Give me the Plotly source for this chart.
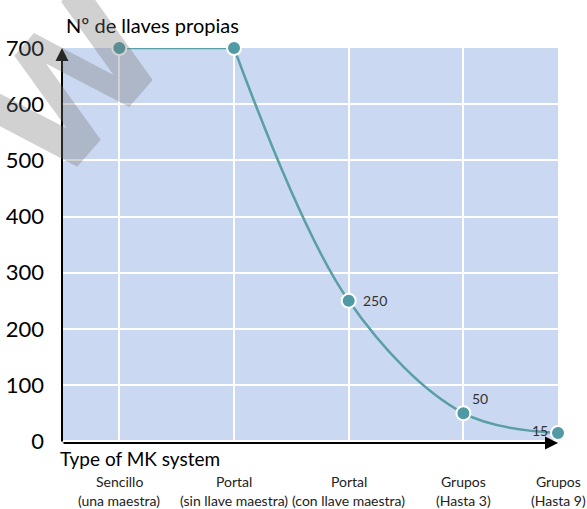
import plotly.graph_objects as go

# Master-key system types and number of own keys
cat_line1 = ["Sencillo", "Portal", "Portal", "Grupos", "Grupos"]
cat_line2 = ["(una maestra)", "(sin llave maestra)", "(con llave maestra)", "(Hasta 3)", "(Hasta 9)"]
cat_pos = [1, 3, 5, 7, 8.65]
own_keys = [700, 700, 250, 50, 15]
value_labels = ["", "", "250", "50", "15"]
y_ticks = [0, 100, 200, 300, 400, 500, 600, 700]

FONT = "Lato"
TEAL = "#5a9ea7"
MARKER = "#4f9aa4"
BG = "#cad9f1"

W, H = 587, 509
ML, MR, MT, MB = 62, 29, 48, 66
PW, PH = W - ML - MR, H - MT - MB


def px(x):
    return (x - ML) / PW


def py(y):
    return 1 - (y - MT) / PH


fig = go.Figure()

# flat part drawn straight, the falling part as a smooth curve
fig.add_trace(go.Scatter(
    x=cat_pos[:2], y=own_keys[:2], mode="lines",
    line=dict(color=TEAL, width=2.5), hoverinfo="skip", showlegend=False,
))
fig.add_trace(go.Scatter(
    x=cat_pos[1:], y=own_keys[1:], mode="lines",
    line=dict(color=TEAL, width=2.5, shape="spline", smoothing=1.0),
    hoverinfo="skip", showlegend=False,
))
fig.add_trace(go.Scatter(
    x=cat_pos, y=own_keys, mode="markers",
    marker=dict(size=14, color=MARKER, line=dict(color="white", width=2)),
    cliponaxis=False, showlegend=False, hoverinfo="skip",
))

# value labels beside the points
label_shift = {"250": (26, 0), "50": (17, 15), "15": (-18, 2)}
for xv, yv, lab in zip(cat_pos, own_keys, value_labels):
    if lab:
        dx, dy = label_shift[lab]
        fig.add_annotation(x=xv, y=yv, text=lab, showarrow=False, xshift=dx, yshift=dy,
                           font=dict(family=FONT, size=14, color="#333333"))

# axis arrows
fig.add_annotation(x=0, y=700, ax=0, ay=-3, xref="x", yref="y", axref="x", ayref="y",
                   text="", showarrow=True, arrowhead=2, arrowsize=1.3, arrowwidth=2,
                   arrowcolor="black")
fig.add_annotation(x=8.65, y=-3, ax=0, ay=-3, xref="x", yref="y", axref="x", ayref="y",
                   text="", showarrow=True, arrowhead=2, arrowsize=1.3, arrowwidth=2,
                   arrowcolor="black")

# titles
fig.add_annotation(x=px(64), y=py(25), xref="paper", yref="paper", text="Nº de llaves propias",
                   showarrow=False, xanchor="left", yanchor="middle",
                   font=dict(family=FONT, size=20, color="black"))
fig.add_annotation(x=px(58), y=py(458), xref="paper", yref="paper", text="Type of MK system",
                   showarrow=False, xanchor="left", yanchor="middle",
                   font=dict(family=FONT, size=19, color="black"))

# category labels under the axis
for pos, l1, l2 in zip(cat_pos, cat_line1, cat_line2):
    fig.add_annotation(x=pos, y=py(481), xref="x", yref="paper", text=l1,
                       showarrow=False, yanchor="middle",
                       font=dict(family=FONT, size=14, color="#222222"))
    fig.add_annotation(x=pos, y=py(501), xref="x", yref="paper", text=l2,
                       showarrow=False, yanchor="middle",
                       font=dict(family=FONT, size=14, color="#222222"))

# watermark
fig.add_annotation(x=px(72), y=py(86), xref="paper", yref="paper", text="<b>W</b>",
                   showarrow=False, textangle=-49, xanchor="center", yanchor="middle",
                   font=dict(family="DejaVu Sans", size=165, color="rgba(115,115,115,0.33)"))

fig.update_layout(
    width=W, height=H,
    margin=dict(l=ML, r=MR, t=MT, b=MB, autoexpand=False),
    paper_bgcolor="white", plot_bgcolor=BG,
    xaxis=dict(range=[0, 8.65], showgrid=False, showticklabels=False, zeroline=False,
               minor=dict(dtick=1, tick0=0, showgrid=True, gridcolor="white", gridwidth=2),
               fixedrange=True, automargin=False),
    yaxis=dict(range=[-3, 700], tickvals=y_ticks, showgrid=True, gridcolor="white",
               gridwidth=2, zeroline=False, ticks="", ticklabelstandoff=17,
               tickfont=dict(family=FONT, size=22, color="black"), fixedrange=True,
               automargin=False),
    showlegend=False,
)

fig.write_html("out.html")
